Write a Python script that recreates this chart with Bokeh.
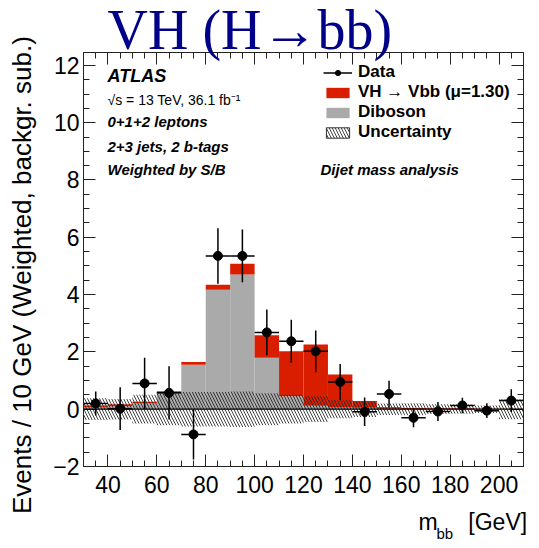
import math
from bokeh.plotting import figure
from bokeh.models import (ColumnDataSource, Range1d, LinearAxis, SingleIntervalTicker,
                          Label, Span, Legend, LegendItem, CustomJSTickFormatter,
                          CustomLabelingPolicy, Title)
from bokeh.embed import file_html
from bokeh.resources import INLINE

# ---------------- data ----------------
bin_edges = [30, 40, 50, 60, 70, 80, 90, 100, 110, 120, 130, 140, 150, 160, 170, 180, 190, 200, 210]
diboson = [0.07, 0.10, 0.21, 0.55, 1.55, 4.17, 4.70, 1.80, 0.45, 0.12, 0.06, 0.05, 0.02, 0.01, 0.01, 0.01, 0.01, 0.01]
vh      = [0.06, 0.07, 0.05, 0.08, 0.10, 0.17, 0.38, 0.78, 1.57, 2.14, 1.15, 0.24, 0.05, 0.03, 0.02, 0.02, 0.01, 0.01]
unc     = [0.38, 0.36, 0.50, 0.56, 0.60, 0.60, 0.62, 0.56, 0.50, 0.45, 0.32, 0.27, 0.20, 0.21, 0.17, 0.16, 0.13, 0.35]
data_y  = [0.20, 0.02, 0.90, 0.57, -0.88, 5.35, 5.35, 2.68, 2.37, 2.02, 0.95, -0.09, 0.53, -0.30, -0.08, 0.13, -0.05, 0.30]
data_err = [0.42, 0.75, 0.90, 0.93, 0.88, 0.97, 0.92, 0.80, 0.75, 0.73, 0.63, 0.50, 0.46, 0.33, 0.33, 0.27, 0.26, 0.40]

x_ticks_interval = 20
y_ticks_interval = 2

# ---------------- derived ----------------
left = bin_edges[:-1]
right = bin_edges[1:]
centers = [(a + b) / 2 for a, b in zip(left, right)]
total = [d + v for d, v in zip(diboson, vh)]
zeros = [0.0] * len(left)

src_hist = ColumnDataSource(dict(left=left, right=right, zero=zeros, dib=diboson, tot=total,
                                 ulo=[-u for u in unc], uhi=unc))
src_data = ColumnDataSource(dict(x=centers, y=data_y,
                                 xl=left, xr=right,
                                 ylo=[y - e for y, e in zip(data_y, data_err)],
                                 yhi=[y + e for y, e in zip(data_y, data_err)]))

RED = "#d91e00"
GRAY = "#aaaaaa"
FONT = "Liberation Sans"

p = figure(width=539, height=548, output_backend="svg", toolbar_location=None,
           x_range=Range1d(30, 210), y_range=Range1d(-2, 12.45),
           min_border_left=83, min_border_right=12, min_border_top=52, min_border_bottom=82,
           x_axis_location=None, y_axis_location=None)
p.grid.visible = False
p.outline_line_color = "#222222"
p.outline_line_width = 1
p.background_fill_color = "white"
p.border_fill_color = "white"

minus_fmt = CustomJSTickFormatter(code="return (tick < 0 ? '\\u2212' : '') + Math.abs(tick).toFixed(0);")
no_labels = CustomLabelingPolicy(code="return new Set()")

def style_axis(ax, labels=True):
    ax.major_tick_in = 12
    ax.major_tick_out = 0
    ax.minor_tick_in = 6
    ax.minor_tick_out = 0
    ax.major_tick_line_color = "#222222"
    ax.minor_tick_line_color = "#222222"
    ax.axis_line_color = "#222222"
    if labels:
        ax.major_label_text_font = FONT
        ax.major_label_text_font_size = "23px"
        ax.major_label_text_color = "black"
    else:
        ax.major_label_policy = no_labels
        ax.major_label_standoff = 0

xb = LinearAxis(ticker=SingleIntervalTicker(interval=x_ticks_interval, num_minor_ticks=4))
style_axis(xb)
xb.major_label_standoff = 9
p.add_layout(xb, "below")

xt = LinearAxis(ticker=SingleIntervalTicker(interval=x_ticks_interval, num_minor_ticks=4))
style_axis(xt, labels=False)
p.add_layout(xt, "above")

yl = LinearAxis(ticker=SingleIntervalTicker(interval=y_ticks_interval, num_minor_ticks=4),
                formatter=minus_fmt)
style_axis(yl)
yl.major_label_standoff = 4
# a trailing em space moves the centred title down a little, as in the reference
yl.axis_label = "Events / 10 GeV (Weighted, backgr. sub.)\u2003\u2009"
yl.axis_label_text_font = FONT
yl.axis_label_text_font_size = "26px"
yl.axis_label_text_font_style = "normal"
yl.axis_label_text_color = "black"
yl.axis_label_standoff = 13
p.add_layout(yl, "left")

yr = LinearAxis(ticker=SingleIntervalTicker(interval=y_ticks_interval, num_minor_ticks=4))
style_axis(yr, labels=False)
p.add_layout(yr, "right")

# ---------------- glyphs ----------------
r_dib = p.quad(left="left", right="right", bottom="zero", top="dib", source=src_hist,
               fill_color=GRAY, line_color=None)
r_vh = p.quad(left="left", right="right", bottom="dib", top="tot", source=src_hist,
              fill_color=RED, line_color=None)
r_unc = p.quad(left="left", right="right", bottom="ulo", top="uhi", source=src_hist,
               fill_alpha=0, line_color=None, hatch_pattern="\\", hatch_color="#222222",
               hatch_alpha=0.85, hatch_scale=6, hatch_weight=1)
p.add_layout(Span(location=0, dimension="width", line_color="black", line_width=1.2))

r_ex = p.segment(x0="xl", x1="xr", y0="y", y1="y", source=src_data, line_color="black", line_width=1.5)
r_ey = p.segment(x0="x", x1="x", y0="ylo", y1="yhi", source=src_data, line_color="black", line_width=1.5)
r_pt = p.scatter(x="x", y="y", source=src_data, size=9, fill_color="black", line_color="black")

nan = float("nan")
legsrc = ColumnDataSource(dict(left=[nan], right=[nan], bottom=[nan], top=[nan]))
r_unc_leg = p.quad(left="left", right="right", bottom="bottom", top="top", source=legsrc,
                   fill_color="white", fill_alpha=0, line_color="#333333", line_width=1,
                   hatch_pattern="\\", hatch_color="#222222", hatch_alpha=0.85,
                   hatch_scale=6, hatch_weight=1)

legend = Legend(items=[
    LegendItem(label="Data", renderers=[r_ex, r_pt]),
    LegendItem(label="VH \u2192 Vbb (\u03bc=1.30)", renderers=[r_vh]),
    LegendItem(label="Diboson", renderers=[r_dib]),
    LegendItem(label="Uncertainty", renderers=[r_unc_leg]),
], location=(240, 324))
legend.label_text_font = FONT
legend.label_text_font_size = "17px"
legend.label_text_font_style = "bold"
legend.label_text_color = "black"
legend.glyph_width = 29
legend.glyph_height = 13
legend.label_height = 19
legend.label_standoff = 6
legend.spacing = 0
legend.padding = 0
legend.margin = 0
legend.border_line_color = None
legend.background_fill_alpha = 0
p.add_layout(legend, "center")

# ---------------- texts ----------------
def lab(text, x, y, size, style="normal", font=FONT, color="black", align="left",
        baseline="middle", where="center"):
    p.add_layout(Label(text=text, x=x, y=y, x_units="screen", y_units="screen",
                       text_font=font, text_font_size=size, text_font_style=style,
                       text_color=color, text_align=align, text_baseline=baseline), where)

def ttl(text, where, size, offset, standoff, align="left", valign="bottom",
        font=FONT, color="black", style="normal"):
    p.add_layout(Title(text=text, align=align, offset=offset, standoff=standoff,
                       vertical_align=valign, text_font=font, text_font_size=size,
                       text_font_style=style, text_color=color), where)

ttl("VH (H\u2192bb)", "above", "56px", 24, -38, font="Liberation Serif", color="#000088")

lab("ATLAS", 24, 391, "18px", style="bold italic")
lab("\u221as = 13 TeV, 36.1 fb\u207b\u00b9", 24, 367, "14px")
lab("0+1+2 leptons", 24, 345, "15px", style="bold italic")
lab("2+3 jets, 2 b-tags", 24, 320, "15px", style="bold italic")
lab("Weighted by S/B", 24, 297, "15px", style="bold italic")
lab("Dijet mass analysis", 237, 297, "15px", style="bold italic")

# x-axis title: m_bb [GeV]  (subscript drawn as a second, smaller text in the gap)
lab("m\u2003\u2004[GeV]", 335, -13, "23px", baseline="bottom", where="below")
lab("bb", 353, -3, "15px", baseline="bottom", where="below")

open("out.html", "w").write(file_html(p, INLINE))
